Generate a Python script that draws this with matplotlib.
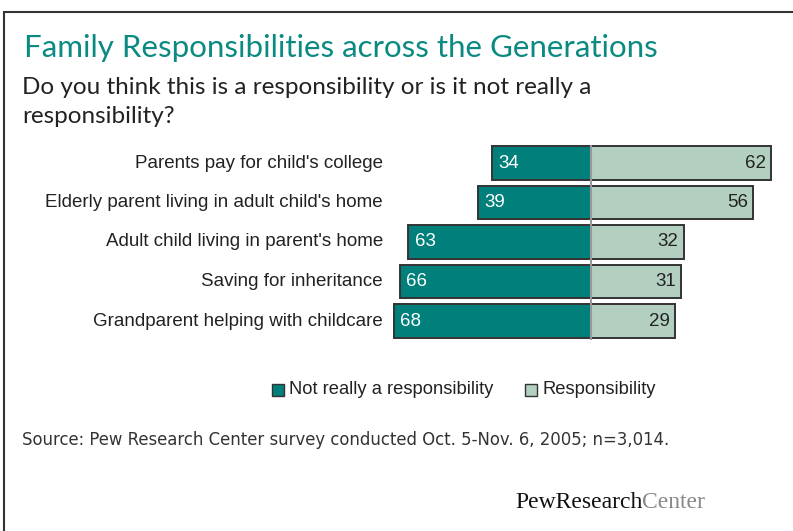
import numpy as np
import matplotlib.pyplot as plt
from matplotlib.patches import Rectangle

# data
categories = ["Parents pay for child's college",
              "Elderly parent living in adult child's home",
              "Adult child living in parent's home",
              "Saving for inheritance",
              "Grandparent helping with childcare"]
not_resp = [34, 39, 63, 66, 68]
resp = [62, 56, 32, 31, 29]
legend_labels = ["Not really a responsibility", "Responsibility"]

dark = '#007f7b'
light = '#b3cfc0'
edge = '#333333'

W, H = 793, 531
fig = plt.figure(figsize=(W / 100, H / 100), dpi=100)

def px(x, y):
    return x / W, 1 - y / H

# frame
fig.patches.append(Rectangle(px(3.5, 600), 1, (600 - 12) / H, transform=fig.transFigure,
                             fill=False, edgecolor='#333333', linewidth=1.5, clip_on=False))

# axes: pixels x 380..790, y 140..340
ax = fig.add_axes([380 / W, 1 - 340 / H, 410 / W, 200 / H])
scale = 2.9
ax.set_xlim(-(591 - 380) / scale, (790 - 591) / scale)
ax.set_ylim(4 + (340 - 321) / 39.5, -(163 - 140) / 39.5)
ax.axis('off')

y = np.arange(len(categories))
ax.barh(y, [-v for v in not_resp], height=0.84, color=dark, edgecolor=edge, linewidth=1.4)
ax.barh(y, resp, height=0.84, color=light, edgecolor=edge, linewidth=1.4)
ax.axvline(0, ymin=0, ymax=0.97, color='#999999', linewidth=1.5)

lab_font = 'Liberation Sans'
for i in range(len(categories)):
    ax.text(-not_resp[i] + 2.2, y[i], str(not_resp[i]), color='white', va='center', ha='left',
            fontsize=13.5, family=lab_font)
    ax.text(resp[i] - 1.8, y[i], str(resp[i]), color='#222222', va='center', ha='right',
            fontsize=13.5, family=lab_font)
    fig.text(383 / W, 1 - (163 + 39.5 * i) / H, categories[i], ha='right', va='center',
             fontsize=13.5, family=lab_font, color='#222222')

# titles
fig.text(*px(24, 48), "Family Responsibilities across the Generations", color='#0a8a80',
         fontsize=22.5, family='Lato', va='center', ha='left')
fig.text(*px(22, 88), "Do you think this is a responsibility or is it not really a",
         color='#222222', fontsize=17.5, family='Lato', va='center', ha='left')
fig.text(*px(22, 116), "responsibility?", color='#222222', fontsize=17.5, family='Lato',
         va='center', ha='left')

# legend
for (x0, lab, col) in [(278, legend_labels[0], dark), (531, legend_labels[1], light)]:
    fig.patches.append(Rectangle(px(x0 - 6, 396), 12 / W, 12 / H, transform=fig.transFigure,
                                 facecolor=col, edgecolor=edge, linewidth=1))
    fig.text(*px(x0 + 11, 390), lab, fontsize=13.2, family=lab_font, va='center',
             ha='left', color='#222222')

fig.text(*px(22, 440), "Source: Pew Research Center survey conducted Oct. 5-Nov. 6, 2005; n=3,014.",
         fontsize=11.9, family='DejaVu Sans', va='center', ha='left', color='#333333')

t = fig.text(*px(515, 503), "PewResearch", fontsize=17, family='Liberation Serif',
             va='center', ha='left', color='#111111')
fig.canvas.draw()
bb = t.get_window_extent()
fig.text(bb.x1 / W, 1 - 503 / H, "Center", fontsize=17, family='Liberation Serif',
         va='center', ha='left', color='#888888')

fig.savefig('out.png', dpi=100)
